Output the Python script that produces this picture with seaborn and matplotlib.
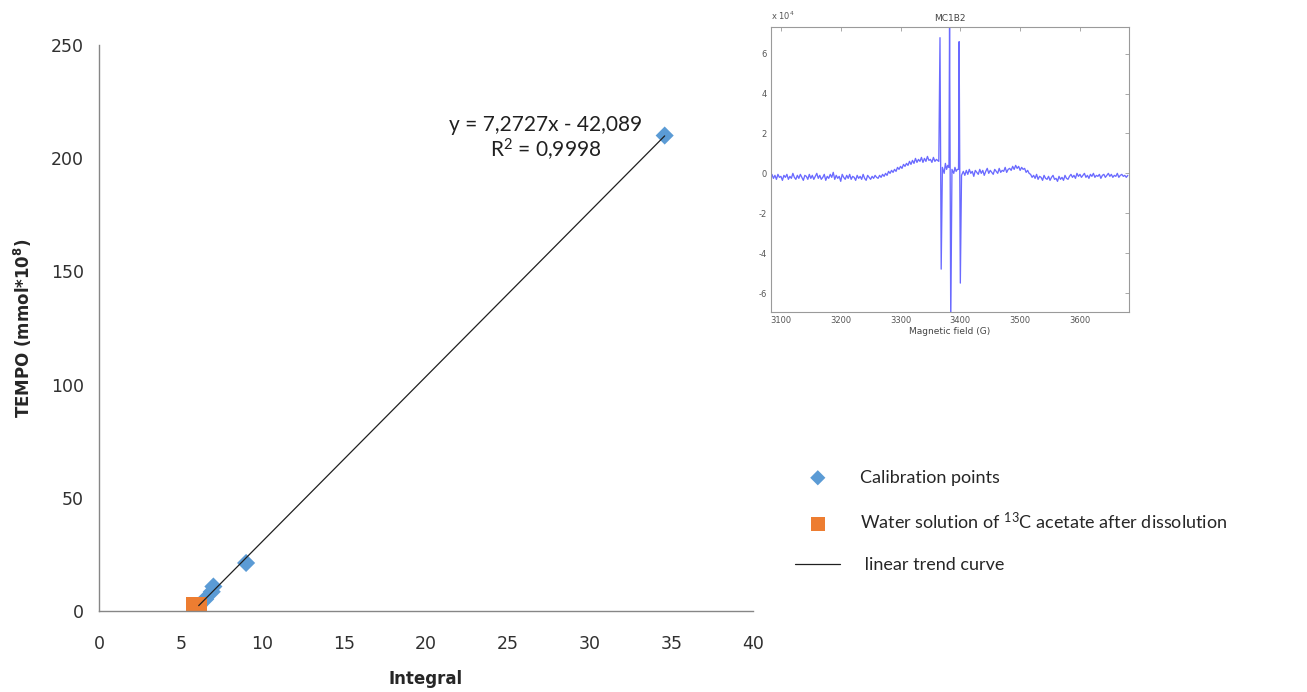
import matplotlib
matplotlib.use("Agg")
import matplotlib.pyplot as plt
import numpy as np
import seaborn as sns

# calibration data (TEMPO standards)
calib_integral = [6.1, 6.5, 6.9, 7.0, 9.0, 34.6]
calib_tempo = [2.3, 5.2, 8.5, 10.8, 21.2, 210.0]

# sample: water solution of 13C acetate after dissolution
sample_integral = [5.95]
sample_tempo = [1.5]

x_ticks = [0, 5, 10, 15, 20, 25, 30, 35, 40]
y_ticks = [0, 50, 100, 150, 200, 250]

# EPR spectrum of the sample (signal in units of 1e4), 2.5 G sampling off the peaks
left_field = np.arange(3085, 3360.1, 2.5)
left_signal = [
    -0.05, -0.25, -0.10, -0.30, -0.05, -0.20, -0.15, -0.35, -0.10, -0.20,
    -0.05, -0.30, -0.15, -0.25, 0.00, -0.20, -0.30, -0.10, -0.25, -0.05,
    -0.20, -0.35, -0.10, -0.15, -0.30, -0.05, -0.25, -0.10, -0.30, -0.15,
    0.00, -0.25, -0.10, -0.30, -0.20, -0.05, -0.35, -0.15, -0.25, -0.05,
    -0.20, 0.05, -0.30, -0.10, -0.25, -0.15, -0.40, -0.05, -0.20, -0.30,
    -0.10, -0.25, -0.05, -0.30, -0.15, -0.20, -0.35, -0.10, -0.25, -0.15,
    -0.30, -0.05, -0.25, -0.35, -0.10, -0.20, -0.30, -0.15, -0.25, -0.10,
    -0.20,
    -0.25, -0.10, -0.20, -0.05, -0.15, 0.00, -0.10, 0.10, 0.00, 0.15,
    0.05, 0.20, 0.10, 0.30, 0.20, 0.35, 0.25, 0.45, 0.35, 0.50,
    0.40, 0.60, 0.45, 0.65, 0.50, 0.75, 0.55, 0.70, 0.60, 0.80,
    0.55, 0.75, 0.60, 0.85, 0.65, 0.70, 0.55, 0.80, 0.60, 0.70,
]
peak_field = [3364, 3366, 3368, 3370, 3373, 3375, 3377, 3379, 3381, 3382, 3384,
              3386, 3389, 3391, 3393, 3395, 3397, 3398, 3400, 3402]
peak_signal = [0.60, 6.80, -4.80, 0.30, 0.00, 0.50, 0.20, 0.40, 0.30, 7.60, -7.60,
               0.20, 0.00, 0.30, 0.10, 0.20, 0.20, 6.60, -5.50, -0.10]
right_field = np.arange(3405, 3680.1, 2.5)
right_signal = [
    0.10, -0.10, 0.15, -0.05, 0.20, 0.00, 0.10, -0.15, 0.15, 0.05,
    -0.05, 0.20, 0.00, 0.15, -0.10, 0.10, 0.25, 0.00, 0.15, 0.05,
    -0.05, 0.20, 0.10, 0.00, 0.25, 0.05, 0.15, 0.10, 0.30, 0.05,
    0.20,
    0.25, 0.15, 0.35, 0.20, 0.40, 0.25, 0.35, 0.15, 0.30, 0.20, 0.25, 0.05, 0.15, 0.00,
    -0.05, -0.20, -0.10, -0.25, -0.05, -0.30, -0.15, -0.20, -0.35, -0.10,
    -0.25, -0.30, -0.15, -0.35, -0.20, -0.10, -0.30, -0.25, -0.40, -0.15,
    -0.30, -0.20, -0.35, -0.10, -0.25, -0.30,
    -0.15, -0.05, -0.20, -0.10, -0.25, 0.00, -0.15, -0.05, -0.20, -0.10,
    0.00, -0.20, -0.10, -0.25, -0.05, -0.15, 0.00, -0.20, -0.10, -0.15,
    -0.05, -0.25, -0.10, -0.05, -0.20, -0.10, 0.00, -0.15, -0.05, -0.20,
    -0.10, -0.15, 0.00, -0.20, -0.10, -0.05, -0.15, -0.10, -0.20, -0.10,
]
spec_field = list(left_field) + peak_field + list(right_field)
spec_signal = left_signal + peak_signal + right_signal
spec_x_ticks = [3100, 3200, 3300, 3400, 3500, 3600]
spec_y_ticks = [-6, -4, -2, 0, 2, 4, 6]

BLUE = "#5B9BD5"
ORANGE = "#ED7D31"
AXIS_GREY = "#868686"

sns.set_style("white")
plt.rcParams["font.family"] = ["DejaVu Sans"]
plt.rcParams["mathtext.default"] = "regular"
plt.rcParams["axes.unicode_minus"] = False

fig = plt.figure(figsize=(13.07, 6.92), dpi=100)
ax = fig.add_axes([0.0757, 0.1171, 0.5004, 0.8179])

sns.scatterplot(x=calib_integral, y=calib_tempo, ax=ax, marker="D", s=85,
                color=BLUE, edgecolor="none", label="Calibration points")
sns.scatterplot(x=sample_integral, y=sample_tempo, ax=ax, marker="s", s=225,
                color=ORANGE, edgecolor="none",
                label="Water solution of $^{13}$C acetate after dissolution")
sns.regplot(x=np.array(calib_integral), y=np.array(calib_tempo), ax=ax,
            scatter=False, ci=None, truncate=True, label=" linear trend curve",
            line_kws={"color": "#202020", "lw": 0.9})

ax.set_xlim(0, 40)
ax.set_ylim(0, 250)
ax.set_xticks(x_ticks)
ax.set_yticks(y_ticks)
for side in ["top", "right"]:
    ax.spines[side].set_visible(False)
for side in ["left", "bottom"]:
    ax.spines[side].set_color(AXIS_GREY)
    ax.spines[side].set_linewidth(1.0)
ax.tick_params(axis="both", direction="out", length=5, width=1, color=AXIS_GREY,
               labelsize=12.5, labelcolor="#303030", pad=6)
ax.tick_params(axis="x", pad=12)
ax.set_xlabel("Integral", fontweight="bold", fontsize=12)
ax.set_ylabel("TEMPO (mmol*10$^8$)", fontweight="bold", fontsize=12)
ax.xaxis.set_label_coords(0.5, -0.104)
ax.yaxis.set_label_coords(-0.099, 0.5)

ax.text(27.3, 208.5, "y = 7,2727x - 42,089\nR$^2$ = 0,9998", family="Lato",
        fontsize=15, ha="center", va="center", multialignment="center",
        linespacing=1.1, color="#202020")

handles, labels = ax.get_legend_handles_labels()
ax.get_legend().remove()
leg = fig.legend(handles, labels, loc="upper left", bbox_to_anchor=(0.596, 0.345),
                 frameon=False, prop={"family": "Lato", "size": 13},
                 handlelength=2.5, handletextpad=1.1, labelspacing=1.4)
leg.legend_handles[0].set_sizes([60])
leg.legend_handles[1].set_sizes([100])

# inset: EPR spectrum
ax2 = fig.add_axes([0.5897, 0.5491, 0.2741, 0.4123])
sns.lineplot(x=spec_field, y=spec_signal, ax=ax2, sort=False, estimator=None,
             color="#6a6aff", lw=0.95)
ax2.set_xlim(3083, 3682)
ax2.set_ylim(-6.95, 7.35)
ax2.set_xticks(spec_x_ticks)
ax2.set_yticks(spec_y_ticks)
for side in ax2.spines.values():
    side.set_color("#9a9a9a")
    side.set_linewidth(0.8)
ax2.tick_params(axis="both", direction="in", length=3, width=0.6, color="#9a9a9a",
                top=True, right=True, labelsize=6, labelcolor="#555555", pad=3)
ax2.set_xlabel("Magnetic field (G)", fontsize=6.5, color="#444444", labelpad=1)
ax2.set_title("MC1B2", fontsize=6.5, color="#444444", pad=4)
ax2.text(0.0, 1.015, "x 10$^4$", transform=ax2.transAxes, fontsize=6,
         color="#555555", ha="left", va="bottom")

fig.savefig("out.png", dpi=100)
